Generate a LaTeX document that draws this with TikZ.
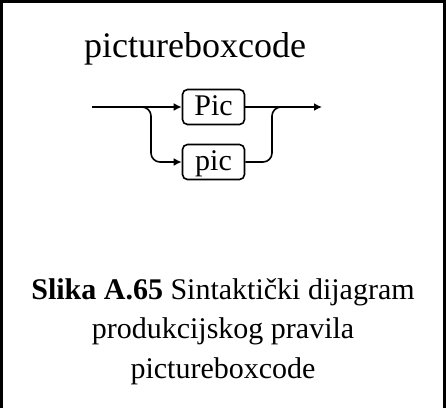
\documentclass[tikz,border=0pt]{standalone}
\usepackage{fontspec}
\setmainfont{Liberation Serif}
\usetikzlibrary{arrows.meta}

\begin{document}
\begin{tikzpicture}[x=1pt,y=-1pt,
  rail/.style={line width=1.6pt},
  term/.style={draw,line width=1.6pt,rounded corners=5pt,minimum width=62pt,minimum height=35pt,
    inner sep=0pt,font=\fontsize{30}{32}\selectfont,text height=20pt,text depth=4pt},
  capline/.style={anchor=base,font=\fontsize{30}{36}\selectfont}]
  \useasboundingbox (0,0) rectangle (446,408);
  \draw[line width=3pt] (1.5,408) -- (1.5,1.5) -- (444.5,1.5) -- (444.5,408);
  \node[anchor=base,font=\fontsize{36}{40}\selectfont] (title) at (195,57) {pictureboxcode};
  % terminals
  \node[term] (upper) at (213.5,107) {Pic};
  \node[term] (lower) at (213.5,162) {pic};
  \coordinate (start) at (92,107);
  \coordinate (split) at (142,107);
  \coordinate (downL) at (151,162);
  \coordinate (upR) at (272,107);
  \coordinate (join) at (282,107);
  \coordinate (finish) at (322,107);
  \draw[rail,-{Latex[length=8pt,width=8pt]}] (start) -- (upper);
  \draw[rail,-{Latex[length=8pt,width=8pt]}] (upper) -- (finish);
  \draw[rail,rounded corners=9pt,-{Latex[length=8pt,width=8pt]}] (split) -| (downL) -- (lower);
  \draw[rail,rounded corners=9pt] (lower) -| (upR) -- (join);
  % caption
  \node[capline] (cap1) at (223,299) {\textbf{Slika A.65} Sintaktički dijagram};
  \node[capline] (cap2) at (223,338) {produkcijskog pravila};
  \node[capline] (cap3) at (223,378) {pictureboxcode};
\end{tikzpicture}
\end{document}
